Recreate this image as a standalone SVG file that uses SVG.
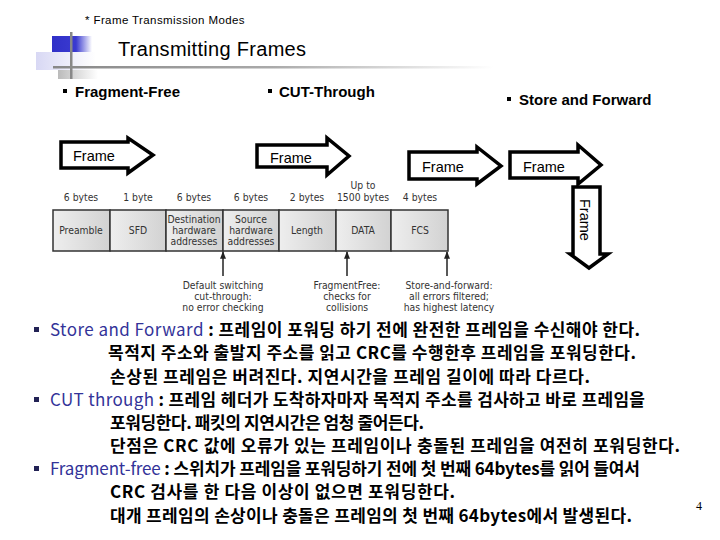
<svg xmlns="http://www.w3.org/2000/svg" width="720" height="540" viewBox="0 0 720 540">
<defs>
<style>
.hdr{font-family:"Liberation Sans",Arial,sans-serif;fill:#000}
.hb{font-weight:bold;font-size:15px}
.blk{fill:#fff;stroke:#000;stroke-width:3.5;stroke-linejoin:miter}
.ft{font-family:"Liberation Sans",Arial,sans-serif;font-size:14.5px;fill:#000}
.cell{fill:url(#cellg);stroke:#333;stroke-width:1.5}
.nt{font-family:"Liberation Sans Narrow","DejaVu Sans Condensed","Liberation Sans",sans-serif;font-size:10.3px;fill:#333;text-anchor:middle}
.kr{font-family:"Noto Sans CJK KR","Liberation Sans",sans-serif;font-size:17px;font-weight:bold;fill:#000}
.en{fill:#333399;font-weight:normal}
.con{stroke:#222;stroke-width:1.5;fill:none;marker-end:url(#ah)}
</style>
<linearGradient id="cellg" x1="0" y1="0" x2="1" y2="0">
<stop offset="0" stop-color="#eeeeee"/><stop offset="1" stop-color="#d2d2d2"/>
</linearGradient>
<linearGradient id="lineg" x1="0" y1="0" x2="1" y2="0">
<stop offset="0" stop-color="#888"/><stop offset="0.5" stop-color="#aaa"/><stop offset="1" stop-color="#fff"/>
</linearGradient>
<linearGradient id="blueg" x1="0" y1="0" x2="1" y2="0">
<stop offset="0" stop-color="#3030c8"/><stop offset="0.6" stop-color="#3a3ad0"/><stop offset="1" stop-color="#fff"/>
</linearGradient>
<linearGradient id="lavg" x1="0" y1="0" x2="1" y2="0">
<stop offset="0" stop-color="#d8d8f4"/><stop offset="1" stop-color="#fff"/>
</linearGradient>
<linearGradient id="grayg" x1="0" y1="0" x2="1" y2="0">
<stop offset="0" stop-color="#bbb"/><stop offset="1" stop-color="#fff"/>
</linearGradient>
<marker id="ah" viewBox="0 0 10 10" refX="9" refY="5" markerWidth="5" markerHeight="5" orient="auto">
<path d="M0,1 L10,5 L0,9 Z" fill="#222"/>
</marker>
</defs>
<rect width="720" height="540" fill="#fff"/>

<g id="header">
<rect x="52" y="36" width="40" height="17" fill="url(#blueg)"/>
<rect x="36" y="52" width="60" height="18" fill="url(#lavg)"/>
<rect x="58" y="70" width="40" height="9" fill="url(#grayg)"/>
<rect x="70" y="32" width="2.5" height="47" fill="#888"/>
<rect x="53" y="66" width="440" height="2.5" fill="url(#lineg)"/>
<text class="hdr" x="85" y="24" font-size="11.5" letter-spacing="0.4">* Frame Transmission Modes</text>
<text class="hdr" x="118" y="56" font-size="20" letter-spacing="0.3">Transmitting Frames</text>
<rect x="63" y="89" width="4" height="4" fill="#000"/>
<text class="hdr hb" x="75" y="97">Fragment-Free</text>
<rect x="268" y="89" width="4" height="4" fill="#000"/>
<text class="hdr hb" x="279" y="97">CUT-Through</text>
<rect x="507" y="97" width="4" height="4" fill="#000"/>
<text class="hdr hb" x="519" y="105">Store and Forward</text>
</g>

<g id="arrow1">
<path class="blk" d="M61,142 H128 V138 L153,155 L128,173 V168 H61 Z"/>
<text class="ft" x="73" y="161">Frame</text>
</g>
<g id="arrow2">
<path class="blk" d="M257,145 H327 V138 L349,156 L327,175 V167 H257 Z"/>
<text class="ft" x="270" y="163">Frame</text>
</g>
<g id="arrow3">
<path class="blk" d="M409,152 H477 V147 L501,166 L477,184 V179 H409 Z"/>
<text class="ft" x="422" y="172">Frame</text>
</g>
<g id="arrow4">
<path class="blk" d="M510,152 H578 V145 L601,165 L578,184 V178 H510 Z"/>
<text class="ft" x="523" y="172">Frame</text>
</g>
<g id="arrow5">
<path class="blk" d="M573,187 H600 V254 H608 L589,268 L570,254 H573 Z"/>
<text class="ft" transform="translate(580,199) rotate(90)">Frame</text>
</g>

<g id="frame-table">
<rect class="cell" x="53" y="210" width="57" height="41"/>
<rect class="cell" x="110" y="210" width="56" height="41"/>
<rect class="cell" x="166" y="210" width="57" height="41"/>
<rect class="cell" x="223" y="210" width="56" height="41"/>
<rect class="cell" x="279" y="210" width="57" height="41"/>
<rect class="cell" x="336" y="210" width="55" height="41"/>
<rect class="cell" x="391" y="210" width="57" height="41"/>
<text class="nt" x="81" y="201">6 bytes</text>
<text class="nt" x="138" y="201">1 byte</text>
<text class="nt" x="194" y="201">6 bytes</text>
<text class="nt" x="251" y="201">6 bytes</text>
<text class="nt" x="307" y="201">2 bytes</text>
<text class="nt" x="363" y="189">Up to</text>
<text class="nt" x="363" y="201">1500 bytes</text>
<text class="nt" x="420" y="201">4 bytes</text>
<text class="nt" x="81" y="234">Preamble</text>
<text class="nt" x="138" y="234">SFD</text>
<text class="nt" x="194" y="223">Destination</text>
<text class="nt" x="194" y="234">hardware</text>
<text class="nt" x="194" y="245">addresses</text>
<text class="nt" x="251" y="223">Source</text>
<text class="nt" x="251" y="234">hardware</text>
<text class="nt" x="251" y="245">addresses</text>
<text class="nt" x="307" y="234">Length</text>
<text class="nt" x="363" y="234">DATA</text>
<text class="nt" x="420" y="234">FCS</text>
<text class="nt" x="223" y="289">Default switching</text>
<text class="nt" x="223" y="300">cut-through:</text>
<text class="nt" x="223" y="311">no error checking</text>
<text class="nt" x="347" y="289">FragmentFree:</text>
<text class="nt" x="347" y="300">checks for</text>
<text class="nt" x="347" y="311">collisions</text>
<text class="nt" x="449" y="289">Store-and-forward:</text>
<text class="nt" x="449" y="300">all errors filtered;</text>
<text class="nt" x="449" y="311">has highest latency</text>
</g>

<g id="connectors">
<line class="con" x1="223" y1="276" x2="223" y2="252"/>
<line class="con" x1="347" y1="276" x2="347" y2="252"/>
<line class="con" x1="447" y1="276" x2="447" y2="252"/>
</g>

<g id="description">
<rect x="34" y="327" width="5" height="5" fill="#222255"/>
<text class="kr" x="50" y="336" textLength="590" lengthAdjust="spacing"><tspan class="en">Store and Forward</tspan> : 프레임이 포워딩 하기 전에 완전한 프레임을 수신해야 한다.</text>
<text class="kr" x="108" y="359" textLength="528" lengthAdjust="spacing">목적지 주소와 출발지 주소를 읽고 CRC를 수행한후 프레임을 포워딩한다.</text>
<text class="kr" x="110" y="383" textLength="480" lengthAdjust="spacing">손상된 프레임은 버려진다. 지연시간을 프레임 길이에 따라 다르다.</text>
<rect x="34" y="397" width="5" height="5" fill="#222255"/>
<text class="kr" x="50" y="406" textLength="595" lengthAdjust="spacing"><tspan class="en">CUT through</tspan> : 프레임 헤더가 도착하자마자 목적지 주소를 검사하고 바로 프레임을</text>
<text class="kr" x="110" y="429" textLength="314" lengthAdjust="spacing">포워딩한다. 패킷의 지연시간은 엄청 줄어든다.</text>
<text class="kr" x="110" y="452" textLength="570" lengthAdjust="spacing">단점은 CRC 값에 오류가 있는 프레임이나 충돌된 프레임을 여전히 포워딩한다.</text>
<rect x="34" y="466" width="5" height="5" fill="#222255"/>
<text class="kr" x="50" y="475" textLength="590" lengthAdjust="spacing"><tspan class="en">Fragment-free</tspan> : 스위치가 프레임을 포워딩하기 전에 첫 번째 64bytes를 읽어 들여서</text>
<text class="kr" x="110" y="498" textLength="345" lengthAdjust="spacing">CRC 검사를 한 다음 이상이 없으면 포워딩한다.</text>
<text class="kr" x="110" y="522" textLength="522" lengthAdjust="spacing">대개 프레임의 손상이나 충돌은 프레임의 첫 번째 64bytes에서 발생된다.</text>
<text x="696" y="510" font-family="Liberation Serif,serif" font-size="12" fill="#000">4</text>
</g>
</svg>
